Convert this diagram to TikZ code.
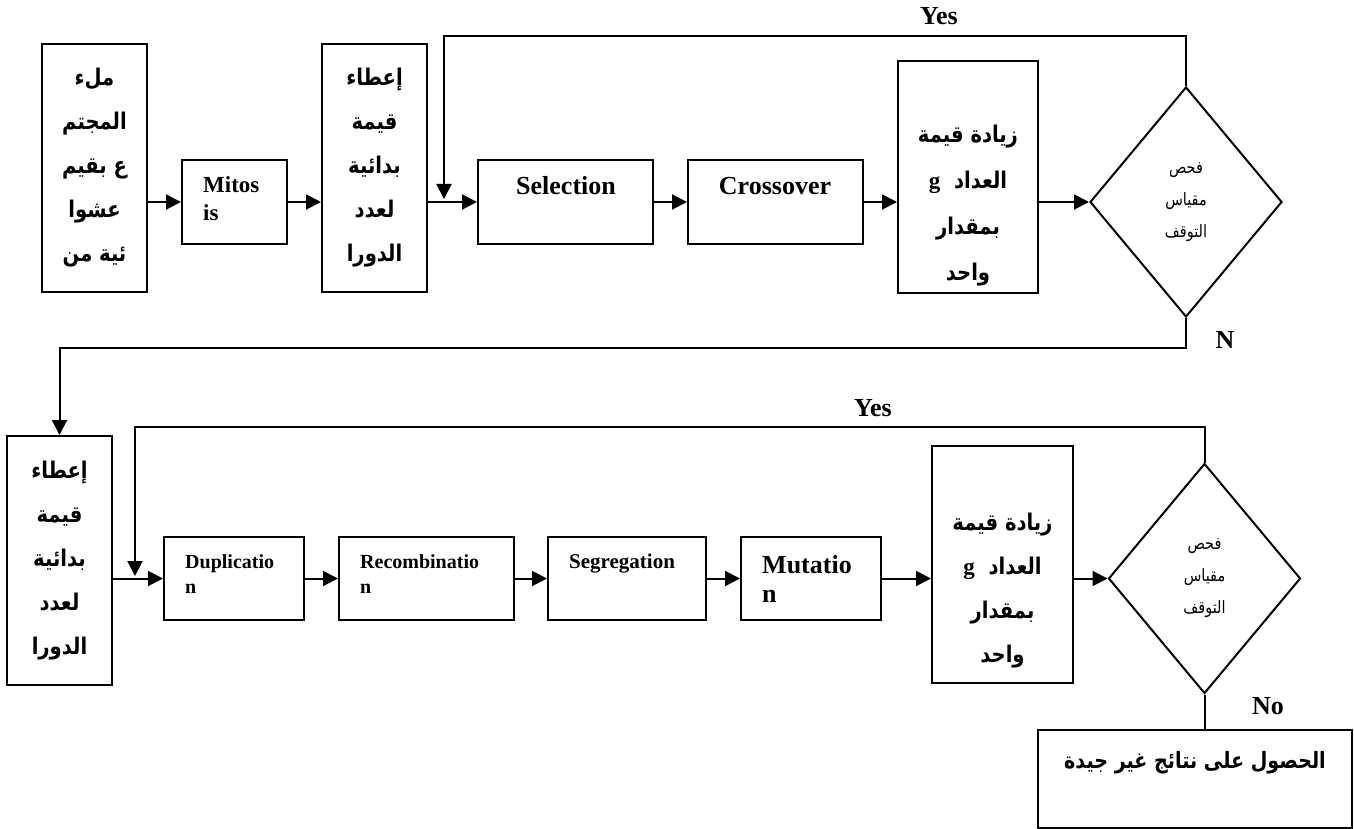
\documentclass[tikz,border=0pt]{standalone}
\usepackage{fontspec}
\setmainfont{Liberation Serif}
\newfontfamily\arabicfont[Script=Arabic,FakeStretch=0.85]{DejaVu Sans}
\TeXXeTstate=1
\usetikzlibrary{arrows.meta,shapes.geometric,fit}
\newcommand{\artxt}[1]{{\arabicfont\bfseries\beginR #1\endR}}
\newcommand{\artxn}[1]{{\arabicfont\beginR #1\endR}}
\tikzset{
  line/.style={line width=2pt},
  boxn/.style={draw, line width=2pt, inner sep=0pt, fit={#1}},
  arr/.style={line width=2pt, -{Triangle[length=15pt,width=15pt]}},
  lat/.style={font=\fontsize{#1}{#1}\selectfont\bfseries, inner sep=0pt},
  arab/.style 2 args={align=center, inner sep=0pt, font=\fontsize{#1}{#2}\selectfont},
  dia/.style={draw, diamond, line width=2pt, inner sep=0pt, minimum width=192pt, minimum height=230pt, align=center, font=\fontsize{17}{32}\selectfont}
}
\begin{document}
\begin{tikzpicture}[x=1pt,y=-1pt]
\useasboundingbox (0,0) rectangle (1354,829);
% ---------- top row ----------
\node[boxn={(42,44) (147,292)}] (b1) {};
\node[arab={23}{44}] (b1t) at (94.5,168) {\artxt{ملء}\\\artxt{المجتم}\\\artxt{ع بقيم}\\\artxt{عشوا}\\\artxt{ئية من}};
\node[boxn={(182,160) (287,244)}] (m) {};
\node[lat=23, anchor=base west] (mt1) at (203,193) {Mitos};
\node[lat=23, anchor=base west] (mt2) at (203,220) {is};
\node[boxn={(322,44) (427,292)}] (b3) {};
\node[arab={23}{44}] (b3t) at (374.5,168) {\artxt{إعطاء}\\\artxt{قيمة}\\\artxt{بدائية}\\\artxt{لعدد}\\\artxt{الدورا}};
\node[boxn={(478,160) (653,244)}] (s) {};
\node[lat=26, anchor=base] (st) at (566,195) {Selection};
\node[boxn={(688,160) (863,244)}] (c) {};
\node[lat=26, anchor=base] (ct) at (775,195) {Crossover};
\node[boxn={(898,61) (1038,293)}] (z1) {};
\node[arab={23}{46}] (z1t) at (968,206) {\artxt{زيادة قيمة}\\\artxt{العداد\ \ {\rmfamily g}}\\\artxt{بمقدار}\\\artxt{واحد}};
\node[dia] (d1) at (1186,202) {\artxn{فحص}\\\artxn{مقياس}\\\artxn{التوقف}};
\coordinate (j1) at (444,199);
\draw[arr] (b1.east |- m.west) -- (m.west);
\draw[arr] (m.east) -- (m.east -| b3.west);
\draw[arr] (b3.east |- s.west) -- (s.west);
\draw[arr] (s.east) -- (c.west);
\draw[arr] (c.east) -- (c.east -| z1.west);
\draw[arr] (z1.east |- d1.west) -- (d1.west);
\draw[arr] (d1.north) -- (d1.north |- 0,36) -| (j1);
\node[lat=26, anchor=base] (yes1) at (939,25) {Yes};
\node[lat=26, anchor=base] (n1) at (1225,348) {N};
% ---------- bottom row ----------
\node[boxn={(7,436) (112,685)}] (b4) {};
\node[arab={23}{44}] (b4t) at (59.5,561) {\artxt{إعطاء}\\\artxt{قيمة}\\\artxt{بدائية}\\\artxt{لعدد}\\\artxt{الدورا}};
\draw[arr] (d1.south) -- (d1.south |- 0,348) -| (b4.north);
\node[boxn={(164,537) (304,620)}] (du) {};
\node[lat=20, anchor=base west] (dut1) at (185,568) {Duplicatio};
\node[lat=20, anchor=base west] (dut2) at (185,593) {n};
\node[boxn={(339,537) (514,620)}] (re) {};
\node[lat=20, anchor=base west] (ret1) at (360,568) {Recombinatio};
\node[lat=20, anchor=base west] (ret2) at (360,593) {n};
\node[boxn={(548,537) (706,620)}] (se) {};
\node[lat=21, anchor=base west] (set) at (569,568) {Segregation};
\node[boxn={(741,537) (881,620)}] (mu) {};
\node[lat=26, anchor=base west] (mut1) at (762,573) {Mutatio};
\node[lat=26, anchor=base west] (mut2) at (762,602) {n};
\node[boxn={(932,446) (1073,683)}] (z2) {};
\node[arab={23}{44}] (z2t) at (1002.5,591) {\artxt{زيادة قيمة}\\\artxt{العداد\ \ {\rmfamily g}}\\\artxt{بمقدار}\\\artxt{واحد}};
\node[dia] (d2) at (1204.5,578.5) {\artxn{فحص}\\\artxn{مقياس}\\\artxn{التوقف}};
\node[boxn={(1038,730) (1352,828)}] (res) {};
\node[arab={22.5}{22.5}] (rest) at (1195,763) {\artxt{الحصول على نتائج غير جيدة}};
\coordinate (j2) at (135,576);
\draw[arr] (b4.east |- du.west) -- (du.west);
\draw[arr] (du.east) -- (re.west);
\draw[arr] (re.east) -- (se.west);
\draw[arr] (se.east) -- (mu.west);
\draw[arr] (mu.east) -- (mu.east -| z2.west);
\draw[arr] (z2.east |- d2.west) -- (d2.west);
\draw[arr] (d2.north) -- (d2.north |- 0,427) -| (j2);
\draw[line] (d2.south) -- (d2.south |- res.north);
\node[lat=26, anchor=base] (yes2) at (873,416) {Yes};
\node[lat=26, anchor=base] (no) at (1268,714) {No};
\end{tikzpicture}
\end{document}
